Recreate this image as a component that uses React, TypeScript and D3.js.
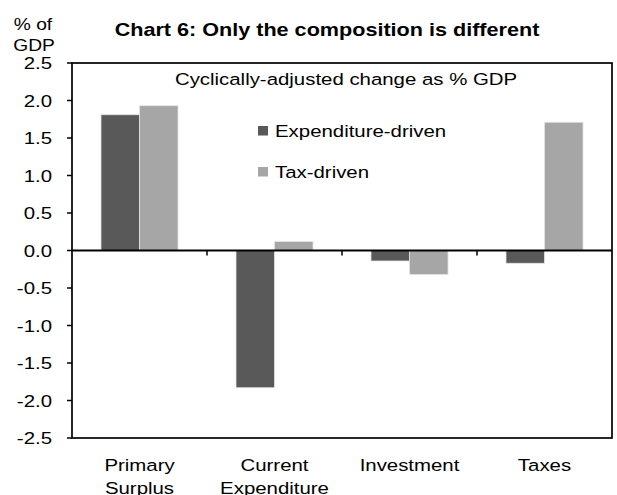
import React from "react";
import * as d3 from "d3";

const categories = ["Primary|Surplus", "Current|Expenditure", "Investment", "Taxes"];
const seriesNames = ["Expenditure-driven", "Tax-driven"];
const expenditureDriven = [1.81, -1.83, -0.14, -0.17];
const taxDriven = [1.93, 0.12, -0.32, 1.71];
const yTicks = [2.5, 2.0, 1.5, 1.0, 0.5, 0.0, -0.5, -1.0, -1.5, -2.0, -2.5];
const seriesColors = ["#595959", "#a6a6a6"];

const W = 617;
const H = 495;
const plot = { left: 72, right: 612, top: 63, bottom: 438 };
const font = "'Liberation Sans', Arial, sans-serif";
const STRETCH = 1.2;

type TProps = {
  x: number;
  y: number;
  size?: number;
  anchor?: "start" | "middle" | "end";
  bold?: boolean;
  children: React.ReactNode;
};

// Text drawn with a slight horizontal stretch
function T({ x, y, size = 17, anchor = "start", bold = false, children }: TProps) {
  return (
    <text
      transform={`translate(${x},${y}) scale(${STRETCH},1)`}
      textAnchor={anchor}
      fontSize={size}
      fontWeight={bold ? "bold" : "normal"}
      fill="#000"
    >
      {children}
    </text>
  );
}

export default function App() {
  const x = d3.scaleBand<string>().domain(categories).range([plot.left, plot.right]);
  const y = d3.scaleLinear().domain([-2.5, 2.5]).range([plot.bottom, plot.top]);
  const barW = 38.5;
  const series = [expenditureDriven, taxDriven];

  return (
    <svg
      width={W}
      height={H}
      style={{ position: "absolute", left: 0, top: 0, background: "#fff" }}
      fontFamily={font}
    >
      <rect x={0} y={0} width={W} height={H} fill="#fff" />

      {/* titles */}
      <T x={327} y={36} size={18} anchor="middle" bold>
        Chart 6: Only the composition is different
      </T>
      <T x={33} y={30} size={16} anchor="middle">% of</T>
      <T x={34} y={51} size={16} anchor="middle">GDP</T>

      {/* bars */}
      {categories.map((c, i) => {
        const cx = (x(c) as number) + x.bandwidth() / 2;
        return series.map((s, k) => {
          const v = s[i];
          const y0 = y(Math.max(0, v));
          const y1 = y(Math.min(0, v));
          return (
            <rect
              key={c + k}
              x={cx - barW + k * barW}
              y={y0}
              width={barW}
              height={y1 - y0}
              fill={seriesColors[k]}
              stroke="#e4e4e4"
              strokeWidth={0.8}
            />
          );
        });
      })}

      {/* frame */}
      <rect
        x={plot.left}
        y={plot.top}
        width={plot.right - plot.left}
        height={plot.bottom - plot.top}
        fill="none"
        stroke="#000"
        strokeWidth={1.7}
      />
      {/* zero line */}
      <line x1={plot.left} x2={plot.right} y1={y(0)} y2={y(0)} stroke="#000" strokeWidth={2} />

      {/* y axis ticks and labels */}
      {yTicks.map((t) => (
        <g key={t}>
          <line x1={plot.left - 5} x2={plot.left} y1={y(t)} y2={y(t)} stroke="#000" strokeWidth={1.5} />
          <T x={52} y={y(t) + 6} anchor="end">
            {t.toFixed(1)}
          </T>
        </g>
      ))}

      {/* category ticks below zero line */}
      {categories.slice(1).map((c) => (
        <line
          key={c}
          x1={x(c) as number}
          x2={x(c) as number}
          y1={y(0)}
          y2={y(0) + 5}
          stroke="#000"
          strokeWidth={1.5}
        />
      ))}

      {/* category labels */}
      {categories.map((c) => {
        const cx = (x(c) as number) + x.bandwidth() / 2;
        return c.split("|").map((line, j) => (
          <T key={c + j} x={cx} y={471 + j * 23} anchor="middle">
            {line}
          </T>
        ));
      })}

      {/* legend */}
      <T x={346} y={85} anchor="middle">
        Cyclically-adjusted change as % GDP
      </T>
      {seriesNames.map((n, k) => (
        <g key={n}>
          <rect x={258} y={126 + k * 41} width={10} height={9.5} fill={seriesColors[k]} />
          <T x={275} y={137 + k * 41}>
            {n}
          </T>
        </g>
      ))}
    </svg>
  );
}
